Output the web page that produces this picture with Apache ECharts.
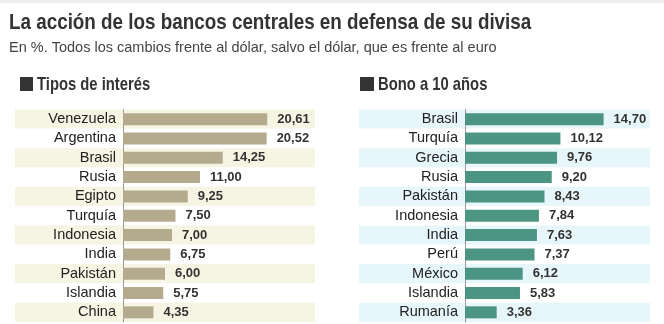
<!DOCTYPE html>
<html><head><meta charset="utf-8">
<script src="https://cdn.jsdelivr.net/npm/echarts@6/dist/echarts.min.js"></script>
<style>html,body{margin:0;padding:0;background:#fff}#c{width:664px;height:324px}</style>
</head><body><div id="c"></div>
<script>
const titleText = 'La acción de los bancos centrales en defensa de su divisa';
const subtitleText = 'En %. Todos los cambios frente al dólar, salvo el dólar, que es frente al euro';
const leftHeader = 'Tipos de interés';
const rightHeader = 'Bono a 10 años';
const catsL = ['Venezuela','Argentina','Brasil','Rusia','Egipto','Turquía','Indonesia','India','Pakistán','Islandia','China'];
const valsL = [20.61,20.52,14.25,11.00,9.25,7.50,7.00,6.75,6.00,5.75,4.35];
const catsR = ['Brasil','Turquía','Grecia','Rusia','Pakistán','Indonesia','India','Perú','México','Islandia','Rumanía'];
const valsR = [14.70,10.12,9.76,9.20,8.43,7.84,7.63,7.37,6.12,5.83,3.36];

const REG = '"Liberation Sans", Arial, Helvetica, sans-serif';
const fmt = v => v.toFixed(2).replace('.', ',');

const chart = echarts.init(document.getElementById('c'), null, {renderer:'canvas'});

const GT = 109.5, GB = 2;
function grid(left, right){ return {left:left, right:right, top:GT, bottom:GB, containLabel:false, outerBoundsMode:'none'}; }

function yStripe(gi, cats, stripe){
  return {
    type:'category', gridIndex:gi, data:cats, inverse:true,
    axisTick:{show:false}, axisLine:{show:false}, axisLabel:{show:false},
    splitArea:{show:true, interval:0, areaStyle:{color:[stripe,'#ffffff']}},
    splitLine:{show:false}
  };
}
function yBar(gi, cats){
  return {
    type:'category', gridIndex:gi, data:cats, inverse:true,
    axisTick:{show:false},
    axisLine:{show:true, lineStyle:{color:'#9a9a9a', width:1}},
    axisLabel:{color:'#222', fontSize:14.5, fontFamily:REG, margin:7, interval:0, hideOverlap:false},
    splitArea:{show:false}, splitLine:{show:false}
  };
}
function xAx(gi, min, max){
  return {type:'value', gridIndex:gi, min:min, max:max, show:false, splitLine:{show:false}};
}
function ser(gi, vals, color){
  return {
    type:'bar', xAxisIndex:gi, yAxisIndex:gi, data:vals, barWidth:12,
    itemStyle:{color:color},
    label:{show:true, position:'right', distance:10, color:'#333', fontSize:13, fontWeight:'bold', fontFamily:REG,
      formatter:p => fmt(p.value)},
    silent:true, animation:false
  };
}

chart.setOption({
  animation:false,
  grid:[ grid(15,349), grid(123,349), grid(359,14), grid(465,14) ],
  xAxis:[xAx(0,0,1), xAx(1,0,27.43), xAx(2,0,1), xAx(3,0,19.62)],
  yAxis:[yStripe(0,catsL,'#f6f4e3'), yBar(1,catsL), yStripe(2,catsR,'#e7f6fa'), yBar(3,catsR)],
  series:[ser(1,valsL,'#b4ab8f'), ser(3,valsR,'#4b9582')],
  graphic:[
    {type:'rect', shape:{x:0,y:0,width:664,height:3}, style:{fill:'#eeeeee'}},
    {type:'text', x:9, y:23, scaleX:0.856, style:{text:titleText, font:'bold 22px '+REG, fill:'#333', verticalAlign:'middle'}},
    {type:'text', x:9, y:48, style:{text:subtitleText, font:'14.5px '+REG, fill:'#444', verticalAlign:'middle'}},
    {type:'rect', shape:{x:20,y:77,width:13,height:14}, style:{fill:'#333'}},
    {type:'text', x:37, y:84.5, scaleX:0.8, style:{text:leftHeader, font:'bold 18.5px '+REG, fill:'#333', verticalAlign:'middle'}},
    {type:'rect', shape:{x:360,y:77,width:14,height:14}, style:{fill:'#333'}},
    {type:'text', x:378, y:84.5, scaleX:0.8, style:{text:rightHeader, font:'bold 18.5px '+REG, fill:'#333', verticalAlign:'middle'}}
  ]
});
</script></body></html>
